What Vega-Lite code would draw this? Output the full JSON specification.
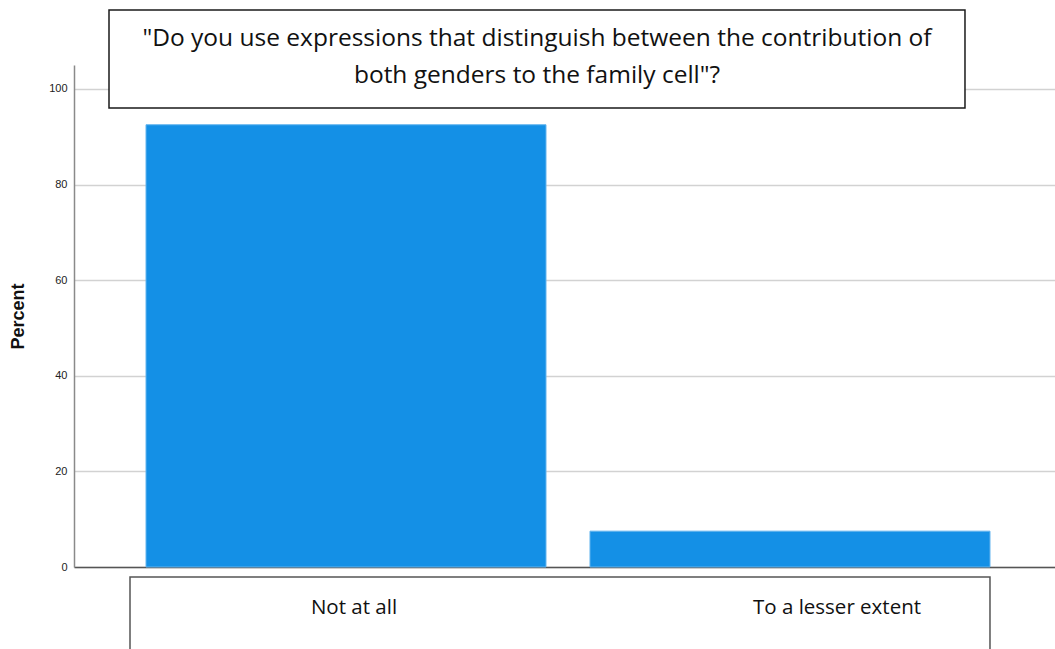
{
  "$schema": "https://vega.github.io/schema/vega-lite/v6.json",
  "width": 981,
  "height": 502,
  "autosize": {"type": "none"},
  "padding": {"left": 74, "top": 65, "right": 0, "bottom": 82},
  "background": "white",
  "config": {"view": {"stroke": null}},
  "data": {
    "values": [
      {"response": "Not at all", "percent": 92.5},
      {"response": "To a lesser extent", "percent": 7.5}
    ]
  },
  "layer": [
    {
      "mark": {"type": "bar", "color": "#1490e6", "stroke": "#62b4ee", "strokeWidth": 1},
      "encoding": {
        "x": {
          "field": "response",
          "type": "nominal",
          "sort": null,
          "scale": {"paddingInner": 0.0991, "paddingOuter": 0.1543, "align": 0.5255},
          "axis": {
            "title": null,
            "domainColor": "#555555",
            "domainWidth": 1.5,
            "ticks": false,
            "grid": false,
            "labelAngle": 0,
            "labelFont": "Open Sans",
            "labelFontSize": 20.5,
            "labelColor": "#111111",
            "labelBaseline": "alphabetic",
            "labelPadding": 46,
            "labelOffset": {
              "condition": {"test": "datum.value === 'To a lesser extent'", "value": 47},
              "value": 8
            }
          }
        },
        "y": {
          "field": "percent",
          "type": "quantitative",
          "scale": {"domain": [0, 105], "nice": false},
          "axis": {
            "values": [0, 20, 40, 60, 80, 100],
            "title": "Percent",
            "titleFont": "Liberation Sans",
            "titleFontSize": 18,
            "titleFontWeight": "bold",
            "titleColor": "#111111",
            "titlePadding": 21,
            "labelFont": "Liberation Sans",
            "labelFontSize": 11,
            "labelColor": "#222222",
            "labelPadding": 7,
            "ticks": false,
            "domainColor": "#8a8a8a",
            "domainWidth": 1.5,
            "gridColor": "#d2d2d2",
            "gridWidth": 1.5
          }
        }
      }
    },
    {
      "data": {"values": [{}]},
      "mark": {"type": "rect", "fill": "white", "stroke": "#1a1a1a", "strokeWidth": 1.5},
      "encoding": {
        "x": {"datum": "Not at all", "bandPosition": -0.0925},
        "x2": {"datum": "To a lesser extent", "bandPosition": 0.9375},
        "y": {"datum": 116.5},
        "y2": {"datum": 96.0}
      }
    },
    {
      "data": {"values": [{}]},
      "mark": {
        "type": "text",
        "font": "Open Sans",
        "fontSize": 24.5,
        "color": "#111111",
        "align": "center",
        "baseline": "alphabetic",
        "lineHeight": 37
      },
      "encoding": {
        "x": {"datum": "Not at all", "bandPosition": 0.9775},
        "y": {"datum": 109.0},
        "text": {"value": ["\"Do you use expressions that distinguish between the contribution of", "both genders to the family cell\"?"]}
      }
    },
    {
      "data": {"values": [{}]},
      "mark": {"type": "rect", "fill": null, "stroke": "#555555", "strokeWidth": 1.5},
      "encoding": {
        "x": {"datum": "Not at all", "bandPosition": -0.04},
        "x2": {"datum": "To a lesser extent", "bandPosition": 1.0},
        "y": {"datum": -2.1},
        "y2": {"datum": -25}
      }
    }
  ]
}
